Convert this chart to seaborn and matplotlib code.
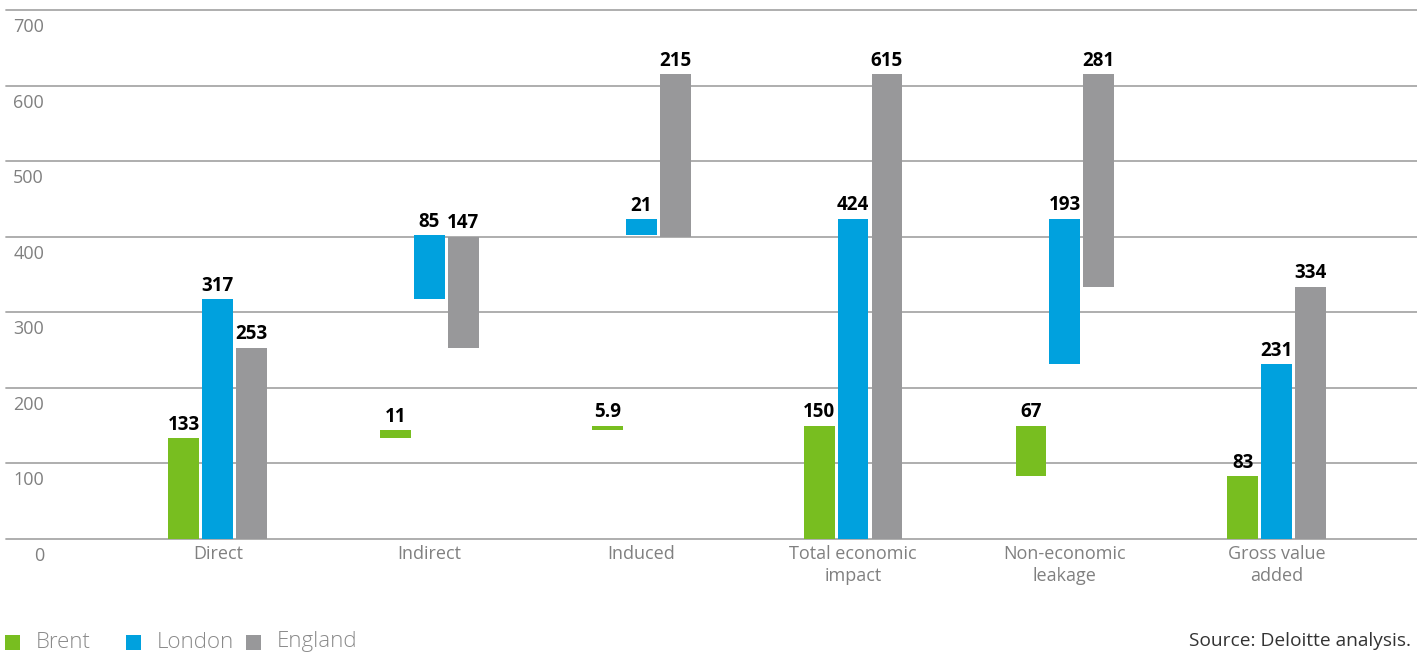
import matplotlib
matplotlib.use("Agg")
import matplotlib.pyplot as plt
import seaborn as sns
import pandas as pd
from matplotlib.patches import Rectangle
from matplotlib.transforms import ScaledTranslation

# Economic impact breakdown (waterfall-style): each bar spans bottom -> bottom + value
categories = ["Direct", "Indirect", "Induced", "Total economic\nimpact",
              "Non-economic\nleakage", "Gross value\nadded"]
series = ["Brent", "London", "England"]

brent_values = [133, 11, 5.9, 150, 67, 83]
brent_bottoms = [0, 133, 144, 0, 83, 0]
london_values = [317, 85, 21, 424, 193, 231]
london_bottoms = [0, 317, 402, 0, 231, 0]
england_values = [253, 147, 215, 615, 281, 334]
england_bottoms = [0, 253, 400, 0, 334, 0]

y_ticks = [0, 100, 200, 300, 400, 500, 600, 700]
colors = ["#78BE20", "#00A1DE", "#98989A"]

values = [brent_values, london_values, england_values]
bottoms = [brent_bottoms, london_bottoms, england_bottoms]

df = pd.DataFrame({
    "category": [c for _ in series for c in categories],
    "series": [s for s in series for _ in categories],
    "value": [v for vals in values for v in vals],
})

sns.set_theme(style="white")
plt.rcParams["font.family"] = ["Open Sans", "DejaVu Sans"]

W, H = 1417, 655
fig = plt.figure(figsize=(W / 100, H / 100), dpi=100)
ax = fig.add_axes([6 / W, 116 / H, 1411 / W, 529 / H])

sns.barplot(data=df, x="category", y="value", hue="series",
            order=categories, hue_order=series, palette=colors,
            width=0.48, gap=0.09, saturation=1, linewidth=0,
            legend=False, ax=ax)

# Lift each bar onto its base and label it with its own value
for container, vals, bots in zip(ax.containers, values, bottoms):
    for patch, v, b in zip(container, vals, bots):
        patch.set_y(b)
        patch.set_height(v)
        ax.annotate(f"{v:g}", (patch.get_x() + patch.get_width() / 2, b + v),
                    xytext=(0, 2.5), textcoords="offset points",
                    ha="center", va="bottom", fontsize=13.5,
                    fontweight="bold", color="black")

ax.set_ylim(0, 700)
ax.set_xlim(-1, 5.663)
ax.set_yticks(y_ticks)
ax.set_xlabel("")
ax.set_ylabel("")
for s in ax.spines.values():
    s.set_visible(False)

ax.yaxis.grid(True, color="#a8a8a8", linewidth=1.3)
ax.set_axisbelow(True)
for gl in ax.get_ygridlines():
    gl.set_clip_on(False)

ax.tick_params(axis="y", length=0, pad=0, labelsize=13, labelcolor="#808080")
shift = ScaledTranslation(0.38, -0.15, fig.dpi_scale_trans)
for lab in ax.get_yticklabels():
    lab.set_transform(lab.get_transform() + shift)

ax.tick_params(axis="x", length=0, pad=4, labelsize=13, labelcolor="#808080")
for lab in ax.get_xticklabels():
    lab.set_linespacing(1.35)

# Legend along the bottom-left
legend_pos = [(5, 36), (126, 157), (246, 277)]
for name, col, (sx, tx) in zip(series, colors, legend_pos):
    fig.add_artist(Rectangle((sx / W, (H - 650) / H), 15 / W, 15 / H,
                             transform=fig.transFigure, color=col, lw=0))
    fig.text(tx / W, 1 - 642 / H, name, ha="left", va="center",
             fontsize=16, fontweight="light", color="#8a8a8a")

fig.text(1411 / W, 1 - 641 / H, "Source: Deloitte analysis.", ha="right",
         va="center", fontsize=13.8, color="#333333")

fig.savefig("out.png", dpi=100)
